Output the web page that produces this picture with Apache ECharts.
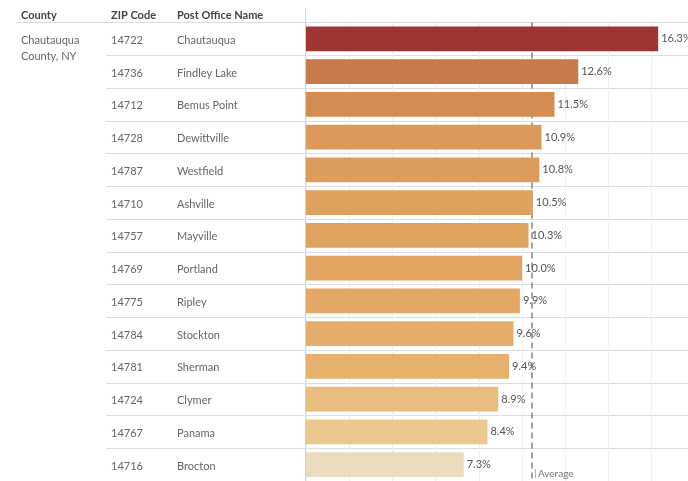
<!DOCTYPE html>
<html>
<head>
<meta charset="utf-8">
<script src="https://cdn.jsdelivr.net/npm/echarts@6/dist/echarts.min.js"></script>
<style>
  html, body { margin: 0; padding: 0; background: #fff; }
  #chart { width: 688px; height: 481px; }
</style>
</head>
<body>
<div id="chart"></div>
<script>
// Post offices in Chautauqua County, NY, ranked by rate
const county = 'Chautauqua\nCounty, NY';
const zipCodes = ['14722', '14736', '14712', '14728', '14787', '14710', '14757',
                  '14769', '14775', '14784', '14781', '14724', '14767', '14716'];
const postOffices = ['Chautauqua', 'Findley Lake', 'Bemus Point', 'Dewittville', 'Westfield',
                     'Ashville', 'Mayville', 'Portland', 'Ripley', 'Stockton', 'Sherman',
                     'Clymer', 'Panama', 'Brocton'];
const rates = [16.3, 12.6, 11.5, 10.9, 10.8, 10.5, 10.3, 10.0, 9.9, 9.6, 9.4, 8.9, 8.4, 7.3];
const barColors = ['#9e3533', '#c7794a', '#d48c53', '#db9a5a', '#dc9d5c', '#dfa15e', '#e0a35f',
                   '#e2a662', '#e3a864', '#e5ad6a', '#e6b06d', '#e9bd7f', '#ecc88f', '#ecdcbf'];
const headers = ['County', 'ZIP Code', 'Post Office Name'];

const FONT = 'Lato, "Noto Sans", sans-serif';
const TEXT = '#666';
const ROW_LINE = '#dcdcdc';

const avgRate = rates.reduce((s, v) => s + v, 0) / rates.length;

const chart = echarts.init(document.getElementById('chart'));

const rowHeight = 32.85;
const gridTop = 22.5;
const gridHeight = rowHeight * zipCodes.length;

chart.setOption({
  animation: false,
  textStyle: { fontFamily: FONT },
  grid: [
    // bar pane
    { left: 306, right: 0, top: gridTop, height: gridHeight, containLabel: false },
    // table pane (ZIP + post office columns)
    { left: 106, width: 200, top: gridTop, height: gridHeight, containLabel: false }
  ],
  xAxis: [
    {
      gridIndex: 0, type: 'value', min: 0, max: 17.68, interval: 2,
      axisLine: { show: false }, axisTick: { show: false }, axisLabel: { show: false },
      splitLine: { show: true, lineStyle: { color: '#efefef', width: 1 } }
    },
    {
      gridIndex: 1, type: 'value', min: 0, max: 1, show: false
    }
  ],
  yAxis: [
    {
      gridIndex: 0, type: 'category', inverse: true, data: zipCodes,
      axisLine: { show: false }, axisTick: { show: false },
      splitLine: { show: true, lineStyle: { color: ROW_LINE, width: 1 } },
      axisLabel: {
        show: true, align: 'left', margin: 195,
        formatter: (v, i) => '{zip|' + zipCodes[i] + '}{name|' + postOffices[i] + '}',
        rich: {
          zip: { width: 66, fontSize: 11, color: TEXT, fontFamily: FONT, padding: [3, 0, 0, 0] },
          name: { fontSize: 11, color: TEXT, fontFamily: FONT, padding: [3, 0, 0, 0] }
        }
      }
    },
    {
      gridIndex: 1, type: 'category', inverse: true, data: zipCodes,
      axisLine: { show: false }, axisTick: { show: false },
      splitLine: { show: true, lineStyle: { color: ROW_LINE, width: 1 } },
      axisLabel: {
        show: true, align: 'left', margin: 85, verticalAlign: 'middle',
        formatter: (v, i) => (i === 0 ? '{c|' + county + '}' : ''),
        rich: {
          c: { fontSize: 11, lineHeight: 16, color: TEXT, fontFamily: FONT, padding: [19, 0, 0, 0] }
        }
      }
    }
  ],
  series: [
    {
      type: 'bar',
      xAxisIndex: 0, yAxisIndex: 0,
      barCategoryGap: '24%',
      data: rates.map((v, i) => ({ value: v, itemStyle: { color: barColors[i] } })),
      label: {
        show: true, position: 'right', distance: 3,
        formatter: p => p.value.toFixed(1) + '%',
        fontSize: 11, color: '#555', fontFamily: FONT, padding: [4, 0, 0, 0]
      },
      markLine: {
        silent: true, symbol: 'none', z: 1,
        lineStyle: { color: '#858585', type: [6, 4], width: 1.5 },
        label: { show: false },
        data: [{ xAxis: avgRate, name: 'Average' }]
      },
      markPoint: {
        silent: true, symbol: 'circle', symbolSize: 1,
        itemStyle: { color: 'rgba(0,0,0,0)' },
        data: [{ coord: [avgRate, zipCodes[zipCodes.length - 1]], name: 'Average' }],
        label: {
          show: true, position: 'inside', align: 'left', verticalAlign: 'middle',
          offset: [3, 9],
          formatter: '{t|}{a|Average}',
          rich: {
            t: { width: 1, height: 9, backgroundColor: '#aaa' },
            a: { fontSize: 10, color: '#777', padding: [0, 0, 0, 2], fontFamily: FONT }
          }
        }
      }
    }
  ],
  graphic: [
    { type: 'text', left: 21, top: 10, style: { text: headers[0], font: 'bold 11px ' + FONT, fill: '#444' } },
    { type: 'text', left: 111, top: 10, style: { text: headers[1], font: 'bold 11px ' + FONT, fill: '#444' } },
    { type: 'text', left: 177, top: 10, style: { text: headers[2], font: 'bold 11px ' + FONT, fill: '#444' } },
    { type: 'line', shape: { x1: 16, y1: 22.5, x2: 688, y2: 22.5 }, style: { stroke: ROW_LINE, lineWidth: 1 } },
    { type: 'line', shape: { x1: 305.5, y1: 8, x2: 305.5, y2: 481 }, style: { stroke: '#d4d4d4', lineWidth: 1 } }
  ]
});
</script>
</body>
</html>
